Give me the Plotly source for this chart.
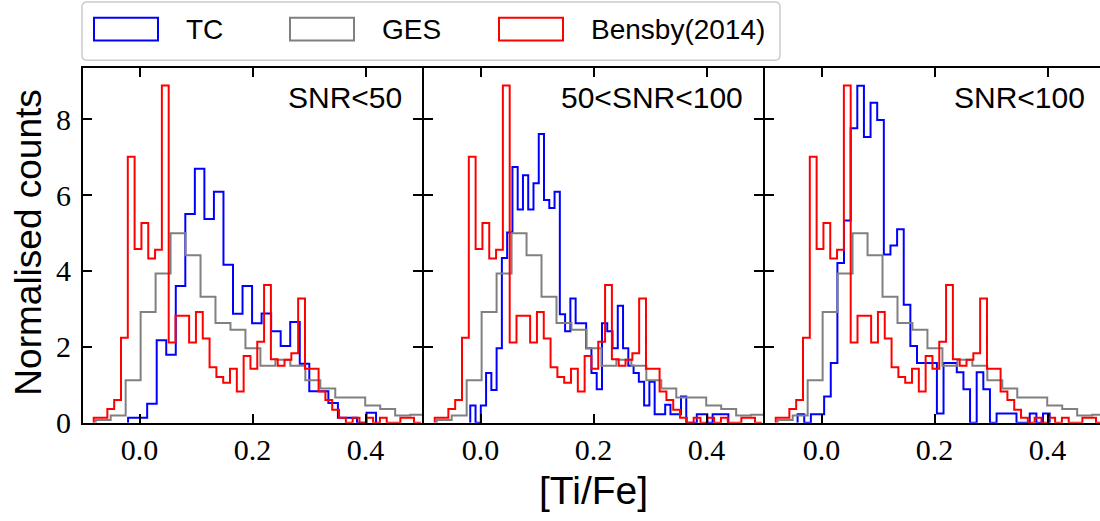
import numpy as np
import plotly.graph_objects as go

W, H = 1100, 521
H_EFF = 512  # vertical extent that paper coordinates span in the rendered page

# ---------------- data ----------------
# Bensby (2014) - same histogram in all panels
red_start, red_width = -0.081, 0.01206
red_counts = [0.13, 0.13, 0.36, 0.60, 2.24, 7.01, 4.58, 5.26, 4.33, 4.56,
              8.89, 2.11, 2.82, 2.82, 2.11, 2.92, 2.22, 1.46, 1.20, 1.05,
              1.42, 0.82, 1.76, 1.42, 2.13, 3.63, 1.67, 1.50, 1.66, 1.83,
              3.27, 1.42, 1.42, 0.82, 0.60, 0.34, 0.13, 0.0, 0.13, 0.0,
              0.13, 0.0, 0.13, 0.0, 0.0, 0.13, 0.13, 0.0]

# GES - same histogram in all panels
gray_start, gray_width = -0.0775, 0.0265
gray_counts = [0.07, 0.19, 1.12, 2.92, 3.93, 4.99, 4.41, 3.32, 2.63, 2.45,
               1.96, 1.50, 1.66, 1.50, 1.12, 0.90, 0.66, 0.66, 0.45, 0.36,
               0.19, 0.21]

# TC, SNR<50
blue1_start, blue1_width = -0.0202, 0.01688
blue1_counts = [0.13, 0.13, 0.50, 2.17, 1.79, 3.60, 5.50, 6.69, 5.37, 6.09,
                4.16, 2.87, 3.60, 2.62, 2.88, 2.41, 2.02, 2.65, 1.55, 0.83,
                0.83, 0.52, 0.13, 0.13, 0.0, 0.26]

# TC, 50<SNR<100
blue2_start, blue2_width = -0.0181, 0.009324
blue2_counts = [0.45, 0.0, 0.45, 1.31, 0.86, 1.96, 4.34, 5.01, 6.74, 5.62,
                6.52, 5.62, 6.31, 7.61, 5.87, 5.66, 6.09, 2.86, 2.41, 3.27,
                2.62, 2.62, 1.96, 1.31, 0.88, 2.62, 2.41, 1.96, 3.08, 1.96,
                1.50, 1.31, 1.08, 0.45, 1.08, 0.22, 0.22, 0.47, 0.22, 0.22,
                0.69, 0.0, 0.0, 0.22, 0.22, 0.0, 0.22, 0.22, 0.22]

# TC, SNR<100
blue3_start, blue3_width = -0.0423, 0.01174
blue3_counts = [0.22, 0.0, 0.22, 0.22, 0.69, 1.57, 4.21, 5.33, 7.76, 8.88,
                7.53, 8.43, 7.98, 4.43, 4.67, 5.10, 3.11, 2.02, 1.57, 1.57,
                1.57, 0.24, 1.57, 1.57, 1.33, 0.88, 0.0, 1.33, 0.88, 0.0,
                0.24, 0.24, 0.24, 0.0, 0.0, 0.24, 0.0, 0.24]

panel_titles = ["SNR&lt;50", "50&lt;SNR&lt;100", "SNR&lt;100"]
legend_labels = ["TC", "GES", "Bensby(2014)"]
x_ticks = [0.0, 0.2, 0.4]
y_ticks = [0, 2, 4, 6, 8]
x_title = "[Ti/Fe]"
y_title = "Normalised counts"

# ---------------- styles / layout ----------------
C_BLUE, C_GRAY, C_RED = "#0000ff", "#808080", "#ff0000"
LW = 2.0


def step_xy(start, width, counts):
    counts = np.asarray(counts, dtype=float)
    edges = start + width * np.arange(len(counts) + 1)
    x = np.concatenate([[edges[0]], edges])
    y = np.concatenate([[0.0], counts, [0.0]])
    return x, y


def px(x):
    return x / W


def py(y):
    return 1 - y / H_EFF


# panel geometry (pixels; axis lines are drawn just outside these)
pl = [83, 424, 765]
pr = [422, 763, 1100]
scale = (pr[0] - pl[0]) / 0.6
x_ranges = [[-0.1, 0.5], [-0.1, 0.5], [-0.1, -0.1 + (pr[2] - pl[2]) / scale]]
y_bot, y_top = 428.5, 69.3
y_range = [0, 9.34]

fig = go.Figure()

blues = [(blue1_start, blue1_width, blue1_counts),
         (blue2_start, blue2_width, blue2_counts),
         (blue3_start, blue3_width, blue3_counts)]

for i in range(3):
    xa = "x" if i == 0 else f"x{i+1}"
    ya = "y" if i == 0 else f"y{i+1}"
    for (s, w, c), col in [(blues[i], C_BLUE),
                           ((gray_start, gray_width, gray_counts), C_GRAY),
                           ((red_start, red_width, red_counts), C_RED)]:
        x, y = step_xy(s, w, c)
        fig.add_trace(go.Scatter(x=x, y=y, mode="lines", line_shape="hv",
                                 line=dict(color=col, width=LW),
                                 xaxis=xa, yaxis=ya, showlegend=False,
                                 hoverinfo="skip"))

tickfont = dict(family="Liberation Serif", size=30, color="black")
for i in range(3):
    sfx = "" if i == 0 else str(i + 1)
    fig.update_layout(**{
        f"xaxis{sfx}": dict(
            domain=[px(pl[i]), px(pr[i])], range=x_ranges[i],
            anchor=f"y{sfx}", showline=True, linecolor="black", linewidth=2,
            mirror="allticks", ticks="inside", ticklen=9, tickwidth=1.8,
            tickcolor="black", tickvals=x_ticks,
            ticktext=[f"{v:.1f}" for v in x_ticks], tickfont=tickfont,
            ticklabelstandoff=-1,
            showgrid=False, zeroline=False, fixedrange=True),
        f"yaxis{sfx}": dict(
            domain=[py(y_bot), py(y_top)], range=y_range,
            anchor=f"x{sfx}", showline=True, linecolor="black", linewidth=2,
            mirror=("allticks" if i < 2 else False), ticks="inside",
            ticklen=9, tickwidth=1.8, tickcolor="black", tickvals=y_ticks,
            ticktext=[str(v) for v in y_ticks], tickfont=tickfont,
            ticklabelstandoff=4,
            showticklabels=(i == 0), showgrid=False, zeroline=False,
            fixedrange=True),
    })

annotations = []
# panel labels
right_px = [423 - 19, 764 - 19, 1106 - 19]
for i in range(3):
    annotations.append(dict(
        text=panel_titles[i], xref="paper", yref="paper",
        x=px(right_px[i]), y=py(99), xanchor="right", yanchor="middle",
        showarrow=False,
        font=dict(family="Liberation Sans", size=30, color="black")))

# axis titles
annotations.append(dict(text=x_title, xref="paper", yref="paper",
                        x=px(593), y=py(497), xanchor="center",
                        yanchor="middle", showarrow=False,
                        font=dict(family="Liberation Sans", size=39,
                                  color="black")))
annotations.append(dict(text=y_title, xref="paper", yref="paper",
                        x=px(29), y=py(246), xanchor="center",
                        yanchor="middle", textangle=-90, showarrow=False,
                        font=dict(family="Liberation Sans", size=37,
                                  color="black")))

# legend (drawn as shapes + text, matplotlib style)
shapes = []
bx0, by0, bx1, by1, r = 82, 2, 780, 61, 5
path = (f"M {px(bx0 + r)} {py(by0)} L {px(bx1 - r)} {py(by0)} "
        f"Q {px(bx1)} {py(by0)} {px(bx1)} {py(by0 + r)} "
        f"L {px(bx1)} {py(by1 - r)} Q {px(bx1)} {py(by1)} {px(bx1 - r)} {py(by1)} "
        f"L {px(bx0 + r)} {py(by1)} Q {px(bx0)} {py(by1)} {px(bx0)} {py(by1 - r)} "
        f"L {px(bx0)} {py(by0 + r)} Q {px(bx0)} {py(by0)} {px(bx0 + r)} {py(by0)} Z")
shapes.append(dict(type="path", xref="paper", yref="paper", path=path,
                   line=dict(color="#cccccc", width=1.5),
                   fillcolor="rgba(255,255,255,0.8)", layer="above"))
patch_x = [94, 290, 499]
text_x = [184, 380, 589]
for lab, col, x0, tx in zip(legend_labels, [C_BLUE, C_GRAY, C_RED],
                            patch_x, text_x):
    shapes.append(dict(type="rect", xref="paper", yref="paper",
                       x0=px(x0), x1=px(x0 + 64), y0=py(41), y1=py(18),
                       line=dict(color=col, width=2), fillcolor="rgba(0,0,0,0)",
                       layer="above"))
    annotations.append(dict(text=lab, xref="paper", yref="paper",
                            x=px(tx), y=py(30), xanchor="left",
                            yanchor="middle", showarrow=False,
                            font=dict(family="Liberation Sans", size=28,
                                      color="black")))

fig.update_layout(width=W, height=H, margin=dict(l=0, r=0, t=0, b=0),
                  paper_bgcolor="white", plot_bgcolor="white",
                  showlegend=False, annotations=annotations, shapes=shapes)

fig.write_html("out.html")
